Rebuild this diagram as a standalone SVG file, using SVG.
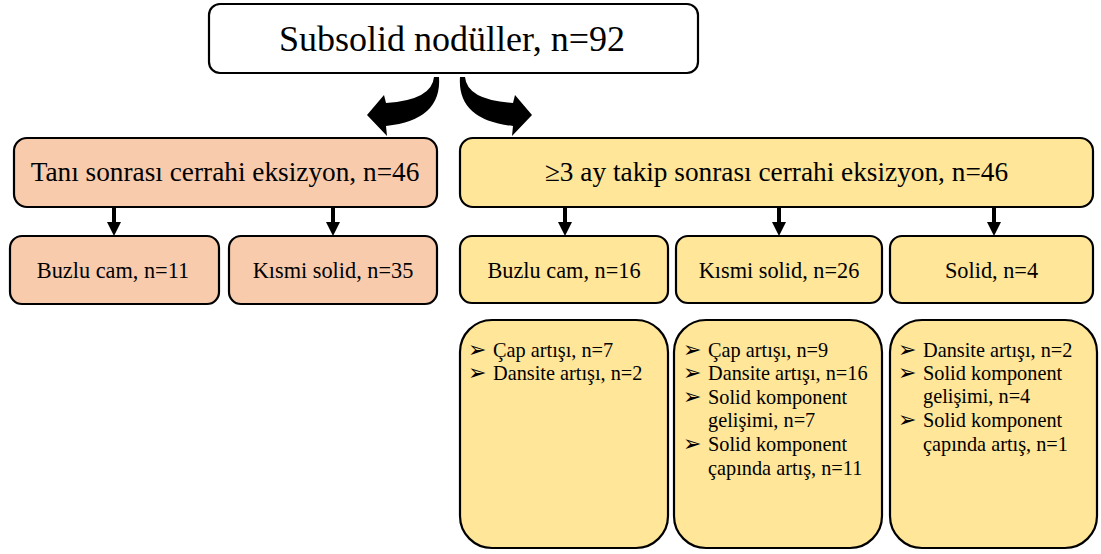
<svg xmlns="http://www.w3.org/2000/svg" width="1101" height="554" viewBox="0 0 1101 554">
<defs>
<style>
.box{stroke:#000;stroke-width:2.2}
.top{fill:#fff}
.sal{fill:#F8CBAD}
.yel{fill:#FFE699}
.t{font-family:"Liberation Serif","Times New Roman",serif;fill:#000}
.big{font-size:36px}
.mid{font-size:27.3px}
.sm{font-size:22.3px}
.bl{font-size:20.3px}
.bu{font-family:"DejaVu Sans",sans-serif;font-size:22px;fill:#000}
.conn path{fill:#000}
.conn line{stroke:#000;stroke-width:4}
</style>
</defs>
<g class="conn" id="connectors">
<path d="M434 77 Q432 100 386 103 L384 95 L367 115 L387 136 L386 126 Q442 120 439 77 Z"/>
<path d="M465 77 Q467 100 513 103 L515 95 L532 115 L512 136 L513 126 Q457 120 460 77 Z"/>
<line x1="114" y1="208" x2="114" y2="223"/><path d="M107 222 L121 222 L114 236 Z"/>
<line x1="333" y1="208" x2="333" y2="223"/><path d="M326 222 L340 222 L333 236 Z"/>
<line x1="565" y1="208" x2="565" y2="223"/><path d="M558 222 L572 222 L565 236 Z"/>
<line x1="779" y1="208" x2="779" y2="223"/><path d="M772 222 L786 222 L779 236 Z"/>
<line x1="994" y1="208" x2="994" y2="223"/><path d="M987 222 L1001 222 L994 236 Z"/>
</g>
<g id="n-root"><rect class="box top" x="209" y="4" width="489" height="69" rx="11"/><text class="t big" x="452" y="51" text-anchor="middle">Subsolid nodüller, n=92</text></g>
<g id="n-tani"><rect class="box sal" x="14" y="138" width="423" height="69" rx="13"/><text class="t mid" x="225" y="181" text-anchor="middle">Tanı sonrası cerrahi eksizyon, n=46</text></g>
<g id="n-takip"><rect class="box yel" x="460" y="138" width="633" height="69" rx="13"/><text class="t mid" x="776.5" y="181" text-anchor="middle">≥3 ay takip sonrası cerrahi eksizyon, n=46</text></g>
<g id="n-l-buzlu"><rect class="box sal" x="10" y="236" width="209" height="68" rx="12"/><text class="t sm" x="113" y="278" text-anchor="middle">Buzlu cam, n=11</text></g>
<g id="n-l-kismi"><rect class="box sal" x="229" y="236" width="208" height="68" rx="12"/><text class="t sm" x="333" y="278" text-anchor="middle">Kısmi solid, n=35</text></g>
<g id="n-r-buzlu"><rect class="box yel" x="460" y="236" width="208" height="67" rx="12"/><text class="t sm" x="564" y="278" text-anchor="middle">Buzlu cam, n=16</text></g>
<g id="n-r-kismi"><rect class="box yel" x="676" y="236" width="206" height="67" rx="12"/><text class="t sm" x="779" y="278" text-anchor="middle">Kısmi solid, n=26</text></g>
<g id="n-r-solid"><rect class="box yel" x="890" y="236" width="203" height="67" rx="12"/><text class="t sm" x="991.5" y="278" text-anchor="middle">Solid, n=4</text></g>
<g id="n-d1"><rect class="box yel" x="460" y="320" width="208" height="228" rx="32"/>
<text class="bu" x="468" y="357">➢</text><text class="t bl" x="493" y="357">Çap artışı, n=7</text>
<text class="bu" x="468" y="380">➢</text><text class="t bl" x="493" y="380">Dansite artışı, n=2</text></g>
<g id="n-d2"><rect class="box yel" x="674" y="320" width="208" height="228" rx="32"/>
<text class="bu" x="683" y="357">➢</text><text class="t bl" x="708" y="357">Çap artışı, n=9</text>
<text class="bu" x="683" y="380">➢</text><text class="t bl" x="708" y="380">Dansite artışı, n=16</text>
<text class="bu" x="683" y="404">➢</text><text class="t bl" x="708" y="404">Solid komponent</text>
<text class="t bl" x="708" y="427">gelişimi, n=7</text>
<text class="bu" x="683" y="451">➢</text><text class="t bl" x="708" y="451">Solid komponent</text>
<text class="t bl" x="708" y="475">çapında artış, n=11</text></g>
<g id="n-d3"><rect class="box yel" x="890" y="320" width="207" height="228" rx="32"/>
<text class="bu" x="898" y="357">➢</text><text class="t bl" x="923" y="357">Dansite artışı, n=2</text>
<text class="bu" x="898" y="380">➢</text><text class="t bl" x="923" y="380">Solid komponent</text>
<text class="t bl" x="923" y="403">gelişimi, n=4</text>
<text class="bu" x="898" y="427">➢</text><text class="t bl" x="923" y="427">Solid komponent</text>
<text class="t bl" x="923" y="451">çapında artış, n=1</text></g>
</svg>
